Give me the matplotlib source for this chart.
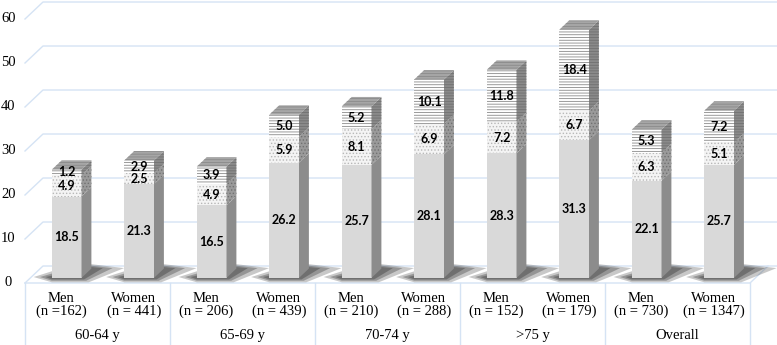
import matplotlib.pyplot as plt
import numpy as np
from matplotlib.patches import Polygon

# data
groups = ['60-64 y', '65-69 y', '70-74 y', '>75 y', 'Overall']
bar_labels = ['Men\n(n =162)', 'Women\n(n = 441)',
              'Men\n(n = 206)', 'Women\n(n = 439)',
              'Men\n(n = 210)', 'Women\n(n = 288)',
              'Men\n(n = 152)', 'Women\n(n = 179)',
              'Men\n(n = 730)', 'Women\n(n = 1347)']
seg1 = [18.5, 21.3, 16.5, 26.2, 25.7, 28.1, 28.3, 31.3, 22.1, 25.7]
seg2 = [4.9, 2.5, 4.9, 5.9, 8.1, 6.9, 7.2, 6.7, 6.3, 5.1]
seg3 = [1.2, 2.9, 3.9, 5.0, 5.2, 10.1, 11.8, 18.4, 5.3, 7.2]
yticks = [0, 10, 20, 30, 40, 50, 60]

SERIF = ['Liberation Serif', 'DejaVu Serif']
plt.rcParams['hatch.linewidth'] = 0.6

# fake 3D geometry (x in bar slots, y in value units)
DX, DY = 0.248, 3.86      # full depth of the floor
Z_FRONT, Z_BACK = 0.3, 0.85
W = 0.41
GRID = '#d5e3f4'

fig = plt.figure(figsize=(7.77, 3.45), dpi=100)
ax = fig.add_axes([0, 0, 1, 1])
xmax = 752 / 72.5
ax.set_xlim(-25 / 72.5, xmax)
ax.set_ylim(-62 / 4.4, 283 / 4.4)
ax.axis('off')

n = len(seg1)

# back wall gridlines + tick labels
for v in yticks:
    ax.plot([0, DX, xmax], [v, v + DY, v + DY], color=GRID, lw=1, zorder=1)
    ax.text(-0.23, v, str(v), ha='center', va='center', fontsize=10.5,
            family=SERIF)

# floor
ax.plot([0, n, n + DX], [0, 0, DY], color=GRID, lw=1, zorder=1)

# category table
for k in range(0, n + 1, 2):
    ax.plot([k, k], [0, -14.2], color=GRID, lw=1, zorder=1)
for i, lab in enumerate(bar_labels):
    ax.text(i + 0.5, -5.0, lab, ha='center', va='center', fontsize=10.5,
            family=SERIF, linespacing=1.05)
for g, name in enumerate(groups):
    ax.text(2 * g + 1, -12.0, name, ha='center', va='center', fontsize=10.5,
            family=SERIF)

x = np.arange(n) + 0.5 + Z_FRONT * DX
base = Z_FRONT * DY
b1 = np.full(n, base)
b2 = b1 + np.array(seg1)
b3 = b2 + np.array(seg2)
top = b3 + np.array(seg3)
ddx = (Z_BACK - Z_FRONT) * DX
ddy = (Z_BACK - Z_FRONT) * DY

# soft shadows on the floor
for i in range(n):
    xl = x[i] - W / 2
    xr = x[i] + W / 2
    for s, a in [(1.0, 0.3), (0.65, 0.4), (0.35, 0.5)]:
        pts = [(xl - 0.25 * s, base + 0.2), (xl, base - 1.0 * s),
               (xr + 0.1 * s, base - 1.0 * s),
               (xr + ddx + 0.45 * s, base + ddy + 0.1),
               (xr + ddx, base + ddy + 1.0 * s), (xl, base + 1.5 * s)]
        ax.add_patch(Polygon(pts, closed=True, fc='#4a4a4a', ec='none',
                             alpha=a, zorder=2))

styles = [
    (seg1, b1, '#d9d9d9', None, '#d9d9d9', '#8c8c8c', None),
    (seg2, b2, '#f4f4f4', '.....', '#b8b8b8', '#9a9a9a', '.....'),
    (seg3, b3, '#ffffff', '------', '#8a8a8a', '#8a8a8a', '------'),
]
for vals, bot, fc, hatch, hc, side_fc, side_hatch in styles:
    ax.bar(x, vals, W, bottom=bot, color=fc, hatch=hatch, edgecolor=hc,
           linewidth=0, zorder=3)
    for i in range(n):
        xr = x[i] + W / 2
        y0, y1 = bot[i], bot[i] + vals[i]
        ax.add_patch(Polygon([(xr, y0), (xr + ddx, y0 + ddy), (xr + ddx, y1 + ddy), (xr, y1)],
                             closed=True, fc=side_fc, hatch=side_hatch,
                             ec='#707070' if side_hatch else side_fc, lw=0, zorder=3))
        ax.text(x[i], y0 + vals[i] / 2, f'{vals[i]:.1f}', ha='center', va='center',
                fontsize=9, fontweight='bold', family='Lato', zorder=5)

# top faces
for i in range(n):
    xl = x[i] - W / 2
    xr = x[i] + W / 2
    t = top[i]
    ax.add_patch(Polygon([(xl, t), (xr, t), (xr + ddx, t + ddy), (xl + ddx, t + ddy)],
                         closed=True, fc='#a6a6a6', hatch='------', ec='#8a8a8a',
                         lw=0, zorder=4))

fig.savefig('out.png', dpi=100)
